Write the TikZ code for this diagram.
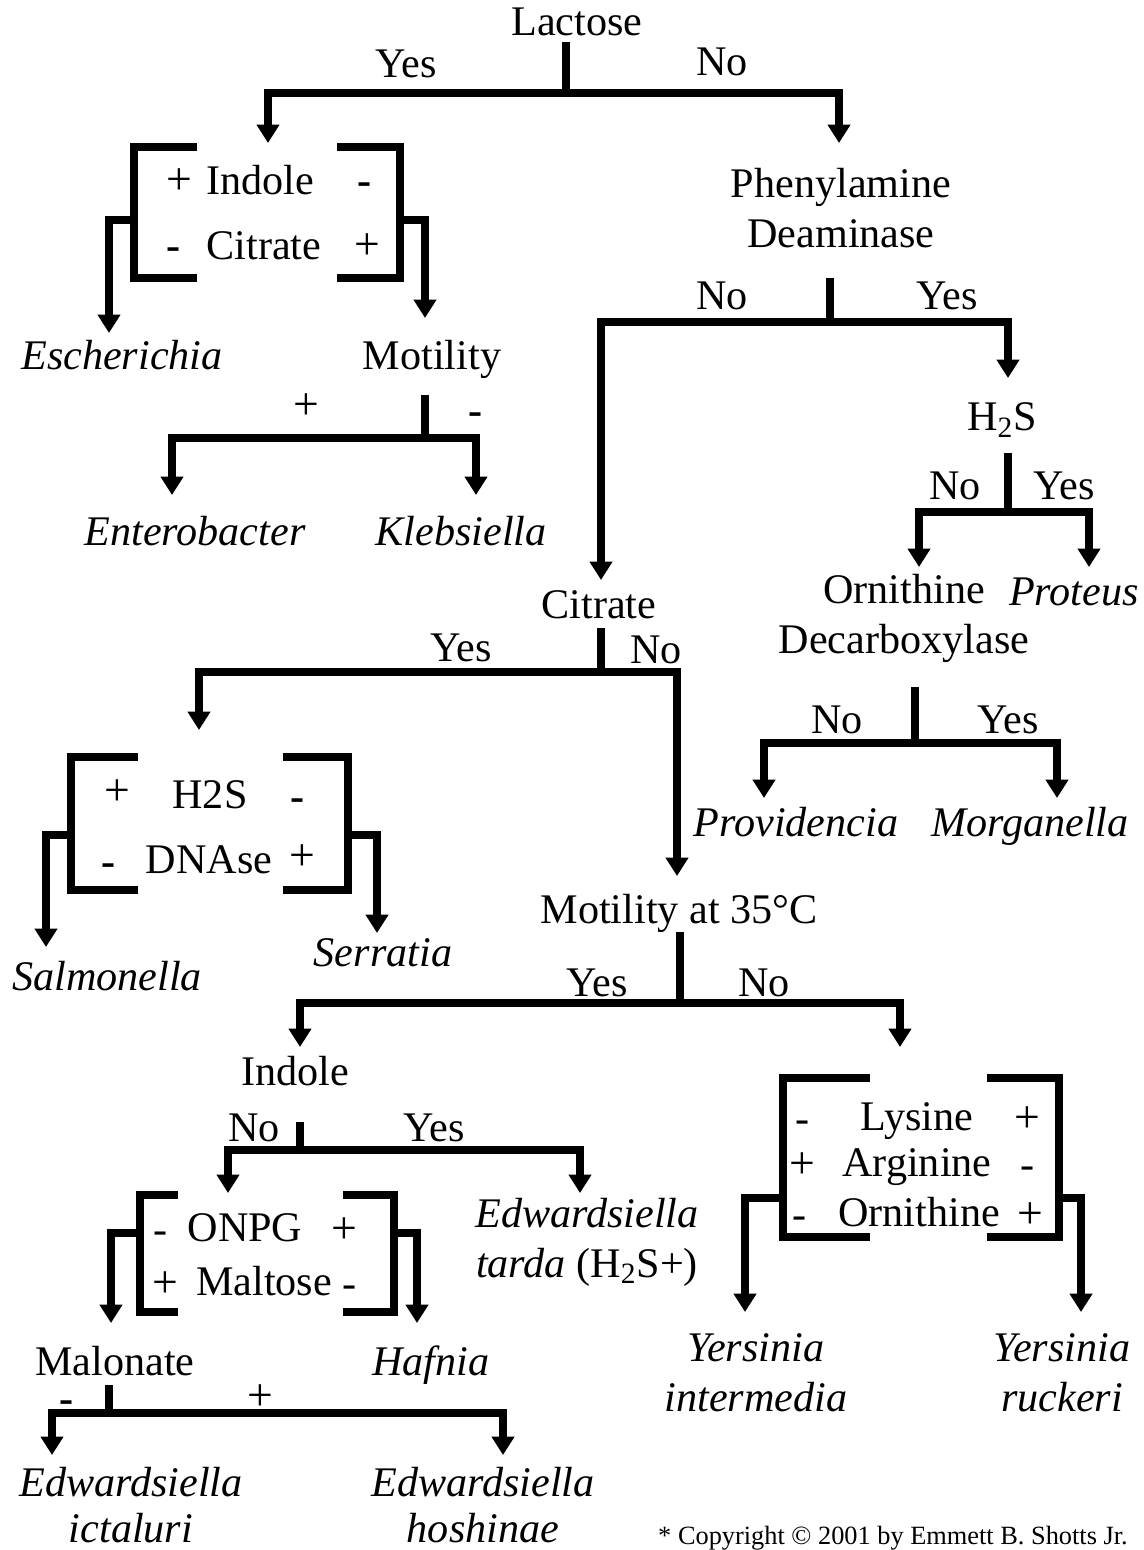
\documentclass[tikz,border=0pt]{standalone}
\usepackage{fontspec}
\setmainfont{Liberation Serif}
\usetikzlibrary{arrows.meta}
\newcommand\myfs{\fontsize{24}{28.5}\selectfont}
\begin{document}
\begin{tikzpicture}[x=0.02cm,y=-0.02cm,
  ln/.style={line width=4.6pt},
  arr/.style={ln,-{Triangle[width=12.5pt,length=10.5pt]}},
  darr/.style={ln,{Triangle[width=12.5pt,length=10.5pt]}-{Triangle[width=12.5pt,length=10.5pt]}},
  txt/.style={font=\myfs, inner sep=0pt, anchor=base, yshift=-0.26cm},
  itx/.style={font=\myfs\itshape, inner sep=0pt, anchor=base, yshift=-0.26cm},
  ml/.style={font=\myfs, inner sep=0pt, align=center},
  mlit/.style={font=\myfs\itshape, inner sep=0pt, align=center},
  sgn/.style={font=\fontsize{26}{30}\selectfont, inner sep=0pt, anchor=base, yshift=-0.30cm, text height=0.55em, text depth=0pt},
  bsgn/.style={sgn, font=\myfs\bfseries, text height=0.35em},
]
\useasboundingbox (0,0) rectangle (1143,1550);

% ---------- Lactose ----------
\node[txt] (lac) at (577,23) {Lactose};
\node[txt] (yes1) at (406,65) {Yes};
\node[txt] (no1) at (722,63) {No};
\coordinate (c1top) at (566,42);
\coordinate (c1) at (566,93);
\coordinate (c1L) at (268,143);
\coordinate (c1R) at (839,143);
\draw[ln] (c1top) -- (c1);
\draw[darr] (c1L) |- (c1) -| (c1R);

% ---------- Indole / Citrate bracket ----------
\node[sgn] (b1a) at (179,180) {+};
\node[txt] (b1ind) at (260,182) {Indole};
\node[bsgn] (b1b) at (365,180) {-};
\node[bsgn] (b1c) at (174,245) {-};
\node[txt] (b1cit) at (264,247) {Citrate};
\node[sgn] (b1d) at (367,245) {+};
\draw[ln] (197,147) -- (134,147) -- (134,278) -- (197,278);
\draw[ln] (337,147) -- (400,147) -- (400,278) -- (337,278);
\coordinate (b1Lx) at (134,220);
\coordinate (b1Rx) at (400,220);
\coordinate (tEsch) at (109,333);
\coordinate (tMot1) at (425,318);
\draw[arr] (b1Lx) -| (tEsch);
\draw[arr] (b1Rx) -| (tMot1);
\node[itx] (esch) at (122,357) {Escherichia};
\node[txt] (mot1) at (432,357) {Motility};

% ---------- Motility ----------
\node[sgn] (m1p) at (306,405) {+};
\node[bsgn] (m1m) at (476,410) {-};
\coordinate (m1top) at (425,395);
\coordinate (m1) at (425,438);
\coordinate (m1L) at (172,495);
\coordinate (m1R) at (476,495);
\draw[ln] (m1top) -- (m1);
\draw[darr] (m1L) |- (m1) -| (m1R);
\node[itx] (ent) at (195,533) {Enterobacter};
\node[itx] (kleb) at (461,533) {Klebsiella};

% ---------- Phenylamine Deaminase ----------
\node[ml] (pd) at (841,208) {Phenylamine\\Deaminase};
\node[txt] (no2) at (722,297) {No};
\node[txt] (yes2) at (947,297) {Yes};
\coordinate (p2top) at (830,278);
\coordinate (p2) at (830,322);
\coordinate (p2L) at (601,580);
\coordinate (p2R) at (1008,378);
\draw[ln] (p2top) -- (p2);
\draw[darr] (p2L) |- (p2) -| (p2R);

% ---------- H2S ----------
\node[txt] (h2s) at (1002,418) {H\textsubscript{2}S};
\node[txt] (no3) at (955,487) {No};
\node[txt] (yes3) at (1064,487) {Yes};
\coordinate (h3top) at (1008,453);
\coordinate (h3) at (1008,512);
\coordinate (h3L) at (919,567);
\coordinate (h3R) at (1089,567);
\draw[ln] (h3top) -- (h3);
\draw[darr] (h3L) |- (h3) -| (h3R);
\node[ml] (orn) at (904,618) {Ornithine\\Decarboxylase};
\node[itx] (prot) at (1074,593) {Proteus};

% ---------- Ornithine Decarboxylase ----------
\node[txt] (no4) at (837,720) {No};
\node[txt] (yes4) at (1008,720) {Yes};
\coordinate (o4top) at (915,687);
\coordinate (o4) at (915,743);
\coordinate (o4L) at (764,798);
\coordinate (o4R) at (1057,798);
\draw[ln] (o4top) -- (o4);
\draw[darr] (o4L) |- (o4) -| (o4R);
\node[itx] (prov) at (796,823) {Providencia};
\node[itx] (morg) at (1030,823) {Morganella};

% ---------- Citrate ----------
\node[txt] (cit) at (599,605) {Citrate};
\node[txt] (yes5) at (461,648) {Yes};
\node[txt] (no5) at (656,650) {No};
\coordinate (c5top) at (601,628);
\coordinate (c5) at (601,672);
\coordinate (c5L) at (199,730);
\coordinate (c5R) at (677,876);
\draw[ln] (c5top) -- (c5);
\draw[darr] (c5L) |- (c5) -| (c5R);

% ---------- H2S / DNAse bracket ----------
\node[sgn] (b2a) at (117,790) {+};
\node[txt] (b2h) at (210,795) {H2S};
\node[bsgn] (b2b) at (298,795) {-};
\node[bsgn] (b2c) at (109,860) {-};
\node[txt] (b2d) at (209,860) {DNAse};
\node[sgn] (b2e) at (302,855) {+};
\draw[ln] (138,757) -- (71,757) -- (71,890) -- (138,890);
\draw[ln] (283,757) -- (348,757) -- (348,890) -- (283,890);
\coordinate (b2Lx) at (71,835);
\coordinate (b2Rx) at (348,835);
\coordinate (tSal) at (46,947);
\coordinate (tSer) at (377,933);
\draw[arr] (b2Lx) -| (tSal);
\draw[arr] (b2Rx) -| (tSer);
\node[itx] (sal) at (107,977) {Salmonella};
\node[itx] (ser) at (383,953) {Serratia};

% ---------- Motility at 35 C ----------
\node[txt] (mot2) at (679,910) {Motility at 35°C};
\node[txt] (yes6) at (597,983) {Yes};
\node[txt] (no6) at (764,983) {No};
\coordinate (m6top) at (680,932);
\coordinate (m6) at (680,1003);
\coordinate (m6L) at (300,1047);
\coordinate (m6R) at (900,1047);
\draw[ln] (m6top) -- (m6);
\draw[darr] (m6L) |- (m6) -| (m6R);

% ---------- Indole ----------
\node[txt] (ind2) at (295,1072) {Indole};
\node[txt] (no7) at (254,1128) {No};
\node[txt] (yes7) at (434,1128) {Yes};
\coordinate (i7top) at (300,1122);
\coordinate (i7) at (300,1150);
\coordinate (i7L) at (228,1193);
\coordinate (i7R) at (580,1193);
\draw[ln] (i7top) -- (i7);
\draw[darr] (i7L) |- (i7) -| (i7R);
\node[ml] (tarda) at (587,1242) {\itshape Edwardsiella\\\textit{tarda} (H\textsubscript{2}S+)};

% ---------- ONPG / Maltose bracket ----------
\node[sgn, font=\myfs] (b3a) at (161,1228) {-};
\node[txt] (b3o) at (245,1228) {ONPG};
\node[sgn] (b3b) at (344,1228) {+};
\node[sgn] (b3c) at (165,1282) {+};
\node[txt] (b3m) at (264,1282) {Maltose};
\node[sgn, font=\myfs] (b3d) at (350,1282) {-};
\draw[ln] (178,1195) -- (140,1195) -- (140,1312) -- (178,1312);
\draw[ln] (343,1195) -- (394,1195) -- (394,1312) -- (343,1312);
\coordinate (b3Lx) at (140,1233);
\coordinate (b3Rx) at (394,1233);
\coordinate (tMal) at (111,1323);
\coordinate (tHaf) at (417,1323);
\draw[arr] (b3Lx) -| (tMal);
\draw[arr] (b3Rx) -| (tHaf);
\node[txt] (mal) at (115,1362) {Malonate};
\node[itx] (haf) at (431,1362) {Hafnia};

% ---------- Malonate ----------
\node[bsgn] (m8m) at (67,1397) {-};
\node[sgn] (m8p) at (260,1395) {+};
\coordinate (m8top) at (109,1385);
\coordinate (m8) at (109,1413);
\coordinate (m8L) at (52,1455);
\coordinate (m8R) at (503,1455);
\draw[ln] (m8top) -- (m8);
\draw[darr] (m8L) |- (m8) -| (m8R);
\node[mlit, font=\fontsize{24}{26.5}\selectfont\itshape] (edi) at (131,1505) {Edwardsiella\\ictaluri};
\node[mlit, font=\fontsize{24}{26.5}\selectfont\itshape] (edh) at (483,1505) {Edwardsiella\\hoshinae};

% ---------- Lysine / Arginine / Ornithine bracket ----------
\node[sgn, font=\myfs] (b4a) at (803,1117) {-};
\node[txt] (b4l) at (917,1117) {Lysine};
\node[sgn] (b4b) at (1027,1117) {+};
\node[sgn] (b4c) at (802,1163) {+};
\node[txt] (b4r) at (917,1163) {Arginine};
\node[sgn, font=\myfs] (b4d) at (1028,1163) {-};
\node[sgn, font=\myfs] (b4e) at (800,1213) {-};
\node[txt] (b4o) at (919,1213) {Ornithine};
\node[sgn] (b4f) at (1030,1213) {+};
\draw[ln] (870,1078) -- (783,1078) -- (783,1237) -- (870,1237);
\draw[ln] (987,1078) -- (1059,1078) -- (1059,1237) -- (987,1237);
\coordinate (b4Lx) at (783,1198);
\coordinate (b4Rx) at (1059,1198);
\coordinate (tYi) at (745,1312);
\coordinate (tYr) at (1081,1312);
\draw[arr] (b4Lx) -| (tYi);
\draw[arr] (b4Rx) -| (tYr);
\node[mlit] (yi) at (756,1373) {Yersinia\\intermedia};
\node[mlit] (yr) at (1062,1373) {Yersinia\\ruckeri};

% ---------- Copyright ----------
\node[font=\fontsize{15}{18}\selectfont, inner sep=0pt] (copy) at (893,1538) {* Copyright © 2001 by Emmett B. Shotts Jr.};
\end{tikzpicture}
\end{document}
